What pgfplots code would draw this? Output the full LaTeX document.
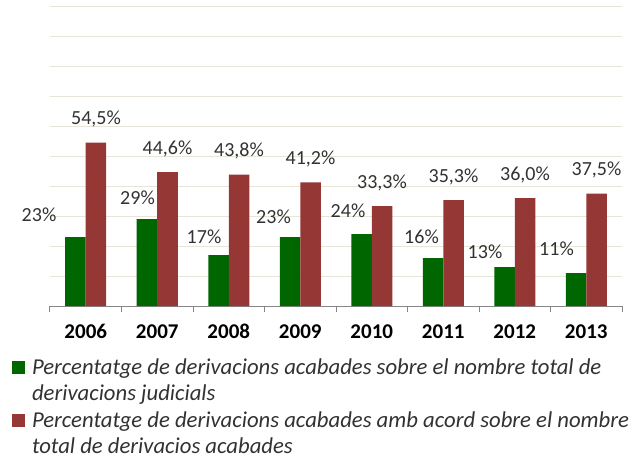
\documentclass[border=0pt]{standalone}
\usepackage{pgfplots}
\pgfplotsset{compat=1.18}
\usepackage{pgfplotstable}
\usepackage{fontspec}
\setmainfont{Carlito}
\usetikzlibrary{calc}

\definecolor{vgreen}{RGB}{0,102,0}
\definecolor{vred}{RGB}{149,55,53}
\definecolor{gridc}{RGB}{232,229,216}
\definecolor{axisc}{RGB}{134,134,134}
\definecolor{txt}{RGB}{50,50,50}

% green series: value, label offsets (pt) from bar top centre
\pgfplotstableread{
x y dx dy
0 23 -19 16
1 29 8 15
2 17 3 12
3 23 1 14
4 24 4 17
5 16 6 15
6 13 -2 9
7 11 -2 18
}\judicials

\pgfplotstableread{
x y
0 54.5
1 44.6
2 43.8
3 41.2
4 33.3
5 35.3
6 36.0
7 37.5
}\acord

\begin{document}
\begin{tikzpicture}
\begin{axis}[
  scale only axis,
  width=572pt, height=300pt,
  ybar=0pt, bar width=20.5pt,
  xmin=-0.5, xmax=7.5,
  ymin=0, ymax=100,
  axis x line*=bottom,
  axis y line*=left,
  x axis line style={axisc, line width=1pt, -},
  y axis line style={draw=none},
  ytick={0,10,...,100},
  yticklabels={},
  y tick style={draw=none},
  ymajorgrids,
  grid style={gridc, line width=1pt},
  xtick={-0.5,0.5,...,7.5},
  xticklabels={},
  tick align=outside,
  major tick length=6pt,
  x tick style={axisc, line width=1pt},
  extra x ticks={0,1,...,7},
  extra x tick labels={2006,2007,2008,2009,2010,2011,2012,2013},
  extra x tick style={major tick length=0pt,
    xticklabel style={anchor=base, yshift=-32pt, text=black,
      font=\fontsize{21}{21}\selectfont\bfseries}},
  legend style={at={(axis description cs:-0.0664,-0.15)}, anchor=north west,
    draw=none, fill=none, inner sep=0pt, outer sep=0pt,
    row sep=0pt, column sep=5pt,
    font=\fontsize{22.7}{27}\selectfont\itshape\color{txt},
    cells={anchor=base west, inner sep=0pt}},
  every node near coord/.append style={font=\fontsize{20}{20}\selectfont, text=txt, inner sep=0pt},
]
\addplot[fill=vgreen, draw=none,
  visualization depends on={\thisrow{dx} \as \dx},
  visualization depends on={\thisrow{dy} \as \dy},
  nodes near coords={\pgfmathprintnumber[assume math mode=true,fixed,precision=0]{\pgfplotspointmeta}\%},
  nodes near coords style={anchor=base east, xshift=\dx, yshift=\dy},
  legend image code/.code={\fill[vgreen] (0pt,0pt) rectangle (13pt,13pt);}]
  table[x=x, y=y]{\judicials};
\addlegendentry{\rule[-6pt]{0pt}{27pt}Percentatge de derivacions acabades sobre el nombre total de}
\addlegendimage{empty legend}
\addlegendentry{\rule[-9pt]{0pt}{30pt}derivacions judicials}
\addplot[fill=vred, draw=none,
  nodes near coords={\pgfmathprintnumber[assume math mode=true,fixed,fixed zerofill,precision=1,use comma]{\pgfplotspointmeta}\%},
  nodes near coords style={anchor=base, yshift=18pt},
  legend image code/.code={\fill[vred] (0pt,0pt) rectangle (13pt,13pt);}]
  table[x=x, y=y]{\acord};
\addlegendentry{\rule[-6pt]{0pt}{27pt}Percentatge de derivacions acabades amb acord sobre el nombre}
\addlegendimage{empty legend}
\addlegendentry{\rule[-6pt]{0pt}{27pt}total de derivacios acabades}
\coordinate (sw) at (rel axis cs:0,0);
\coordinate (ne) at (rel axis cs:1,1);
\end{axis}
\pgfresetboundingbox
\path[use as bounding box] ($(sw)+(-50pt,-153pt)$) rectangle ($(ne)+(12pt,6pt)$);
\end{tikzpicture}
\end{document}
